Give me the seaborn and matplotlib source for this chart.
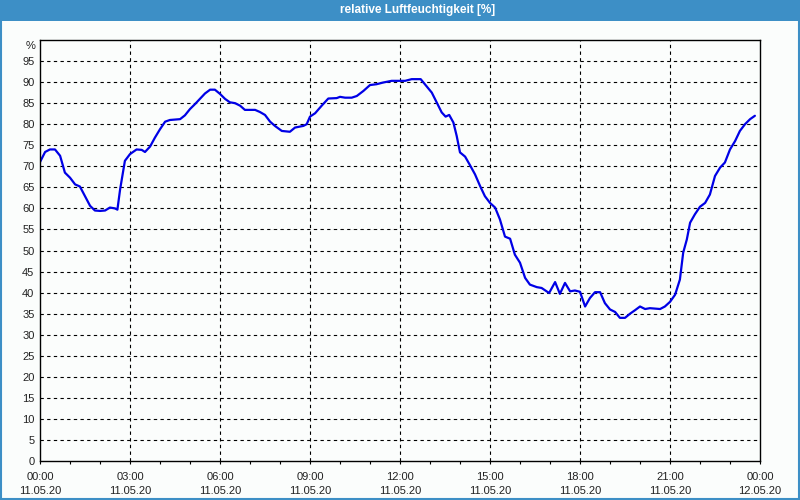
import matplotlib
matplotlib.use("Agg")
import matplotlib.pyplot as plt
import matplotlib.transforms as mtransforms
from matplotlib.patches import Rectangle
import seaborn as sns
import pandas as pd

# ---- data -------------------------------------------------------------
title = "relative Luftfeuchtigkeit [%]"
unit_label = "%"
hours = [0.00, 0.17, 0.33, 0.50, 0.67, 0.83, 1.00, 1.17, 1.33, 1.50, 1.67, 1.83,
         2.00, 2.17, 2.33, 2.50, 2.58, 2.67, 2.83, 3.00, 3.22, 3.39, 3.50, 3.67,
         3.83, 4.00, 4.17, 4.33, 4.67, 4.83, 5.00, 5.17, 5.33, 5.50, 5.67, 5.83,
         6.00, 6.17, 6.33, 6.50, 6.67, 6.83, 7.17, 7.33, 7.50, 7.67, 7.83, 8.06,
         8.33, 8.50, 8.78, 8.89, 9.00, 9.17, 9.39, 9.61, 9.89, 10.00, 10.17, 10.39,
         10.56, 10.78, 11.00, 11.22, 11.44, 11.72, 12.17, 12.39, 12.69, 12.83, 13.06, 13.22,
         13.39, 13.52, 13.64, 13.78, 13.89, 14.00, 14.17, 14.33, 14.50, 14.67, 14.83, 15.00,
         15.17, 15.33, 15.50, 15.67, 15.83, 16.00, 16.17, 16.33, 16.56, 16.72, 16.97, 17.17,
         17.33, 17.50, 17.67, 17.83, 18.00, 18.17, 18.33, 18.50, 18.67, 18.83, 19.00, 19.17,
         19.33, 19.50, 19.67, 19.83, 20.00, 20.17, 20.33, 20.67, 20.83, 21.00, 21.17, 21.33,
         21.44, 21.56, 21.67, 21.83, 22.00, 22.17, 22.33, 22.50, 22.67, 22.83, 23.00, 23.17,
         23.33, 23.50, 23.67, 23.83]
humidity = [71.0, 73.4, 74.0, 74.0, 72.5, 68.5, 67.3, 65.7, 65.2, 62.9, 60.6, 59.5,
            59.4, 59.5, 60.2, 60.0, 59.7, 64.5, 71.3, 72.9, 74.0, 73.9, 73.4, 74.7,
            76.8, 78.8, 80.6, 81.0, 81.2, 82.1, 83.6, 84.8, 86.0, 87.3, 88.2, 88.2,
            87.2, 86.0, 85.2, 85.0, 84.4, 83.4, 83.4, 82.9, 82.2, 80.6, 79.6, 78.4,
            78.2, 79.2, 79.6, 80.0, 81.8, 82.6, 84.4, 86.1, 86.2, 86.5, 86.3, 86.3,
            86.7, 87.9, 89.3, 89.5, 89.9, 90.3, 90.3, 90.7, 90.7, 89.5, 87.5, 85.2,
            82.8, 81.8, 82.2, 80.4, 77.2, 73.3, 72.3, 70.3, 68.1, 65.3, 62.9, 61.3,
            60.2, 57.4, 53.3, 52.8, 49.0, 47.1, 43.5, 41.9, 41.3, 41.1, 39.9, 42.5,
            39.7, 42.3, 40.3, 40.5, 40.2, 36.7, 38.7, 40.1, 40.1, 37.5, 36.0, 35.4,
            34.0, 34.0, 35.0, 35.8, 36.7, 36.1, 36.3, 36.1, 36.7, 37.8, 39.5, 43.1,
            49.5, 52.6, 56.6, 58.6, 60.4, 61.3, 63.3, 67.7, 69.7, 70.9, 74.0, 76.0,
            78.4, 80.0, 81.2, 82.0]
x_tick_hours = [0, 3, 6, 9, 12, 15, 18, 21, 24]
x_tick_labels = ["00:00\n11.05.20", "03:00\n11.05.20", "06:00\n11.05.20",
                 "09:00\n11.05.20", "12:00\n11.05.20", "15:00\n11.05.20",
                 "18:00\n11.05.20", "21:00\n11.05.20", "00:00\n12.05.20"]
y_ticks = list(range(0, 100, 5))

df = pd.DataFrame({"hour": hours, "rh": humidity})

# ---- style ------------------------------------------------------------
sns.set_style("white")
plt.rcParams["font.family"] = ["Liberation Sans", "DejaVu Sans"]

bg = "#fbfdfc"
frame_blue = "#3d8fc6"

fig = plt.figure(figsize=(8, 5), dpi=100, facecolor=bg)
ax = fig.add_axes([40 / 800, 1 - 461 / 500, 720 / 800, 421 / 500])
ax.set_facecolor(bg)

sns.lineplot(data=df, x="hour", y="rh", ax=ax, color="#0000e6",
             linewidth=1.6, legend=False)

ax.set_xlim(0, 24)
ax.set_ylim(0, 100)
ax.set_xlabel("")
ax.set_ylabel("")

ax.set_xticks(x_tick_hours)
ax.set_xticklabels(x_tick_labels, fontsize=8, color="#222222")
ax.set_xticks(range(0, 25), minor=True)
ax.set_yticks(y_ticks)
ax.set_yticklabels([str(v) for v in y_ticks], fontsize=8, color="#222222")
for lab in ax.get_xticklabels():
    lab.set_linespacing(1.5)

ax.tick_params(axis="x", which="both", direction="out", length=2.5,
               width=0.8, color="black", pad=5.5, bottom=True)
ax.tick_params(axis="y", length=0, pad=4)

# % label at the top of the y axis
trans = mtransforms.blended_transform_factory(ax.transAxes, ax.transData)
ax.text(-0.006, 98.6, unit_label, transform=trans, ha="right", va="center",
        fontsize=8, color="#222222")

# dashed grid
for h in x_tick_hours[1:-1]:
    ax.axvline(h, color="black", linewidth=0.8, linestyle=(0, (3, 3)), zorder=1)
for v in y_ticks[1:]:
    ax.axhline(v, color="black", linewidth=0.8, linestyle=(0, (3, 3)), zorder=1)

for s in ax.spines.values():
    s.set_visible(True)
    s.set_color("black")
    s.set_linewidth(1.0)

# title bar and frame
fig.patches.append(Rectangle((0, 1 - 21 / 500), 1, 21 / 500, transform=fig.transFigure,
                             facecolor=frame_blue, edgecolor="none", zorder=0))
fig.patches.append(Rectangle((0.001, 0.002), 0.998, 0.996, transform=fig.transFigure,
                             facecolor="none", edgecolor=frame_blue, linewidth=1.5, zorder=5))
fig.text(418 / 800, 1 - 10.5 / 500, title, ha="center", va="center",
         fontsize=8.5, fontweight="bold", color="white")

fig.savefig("out.png", dpi=100, facecolor=bg)
